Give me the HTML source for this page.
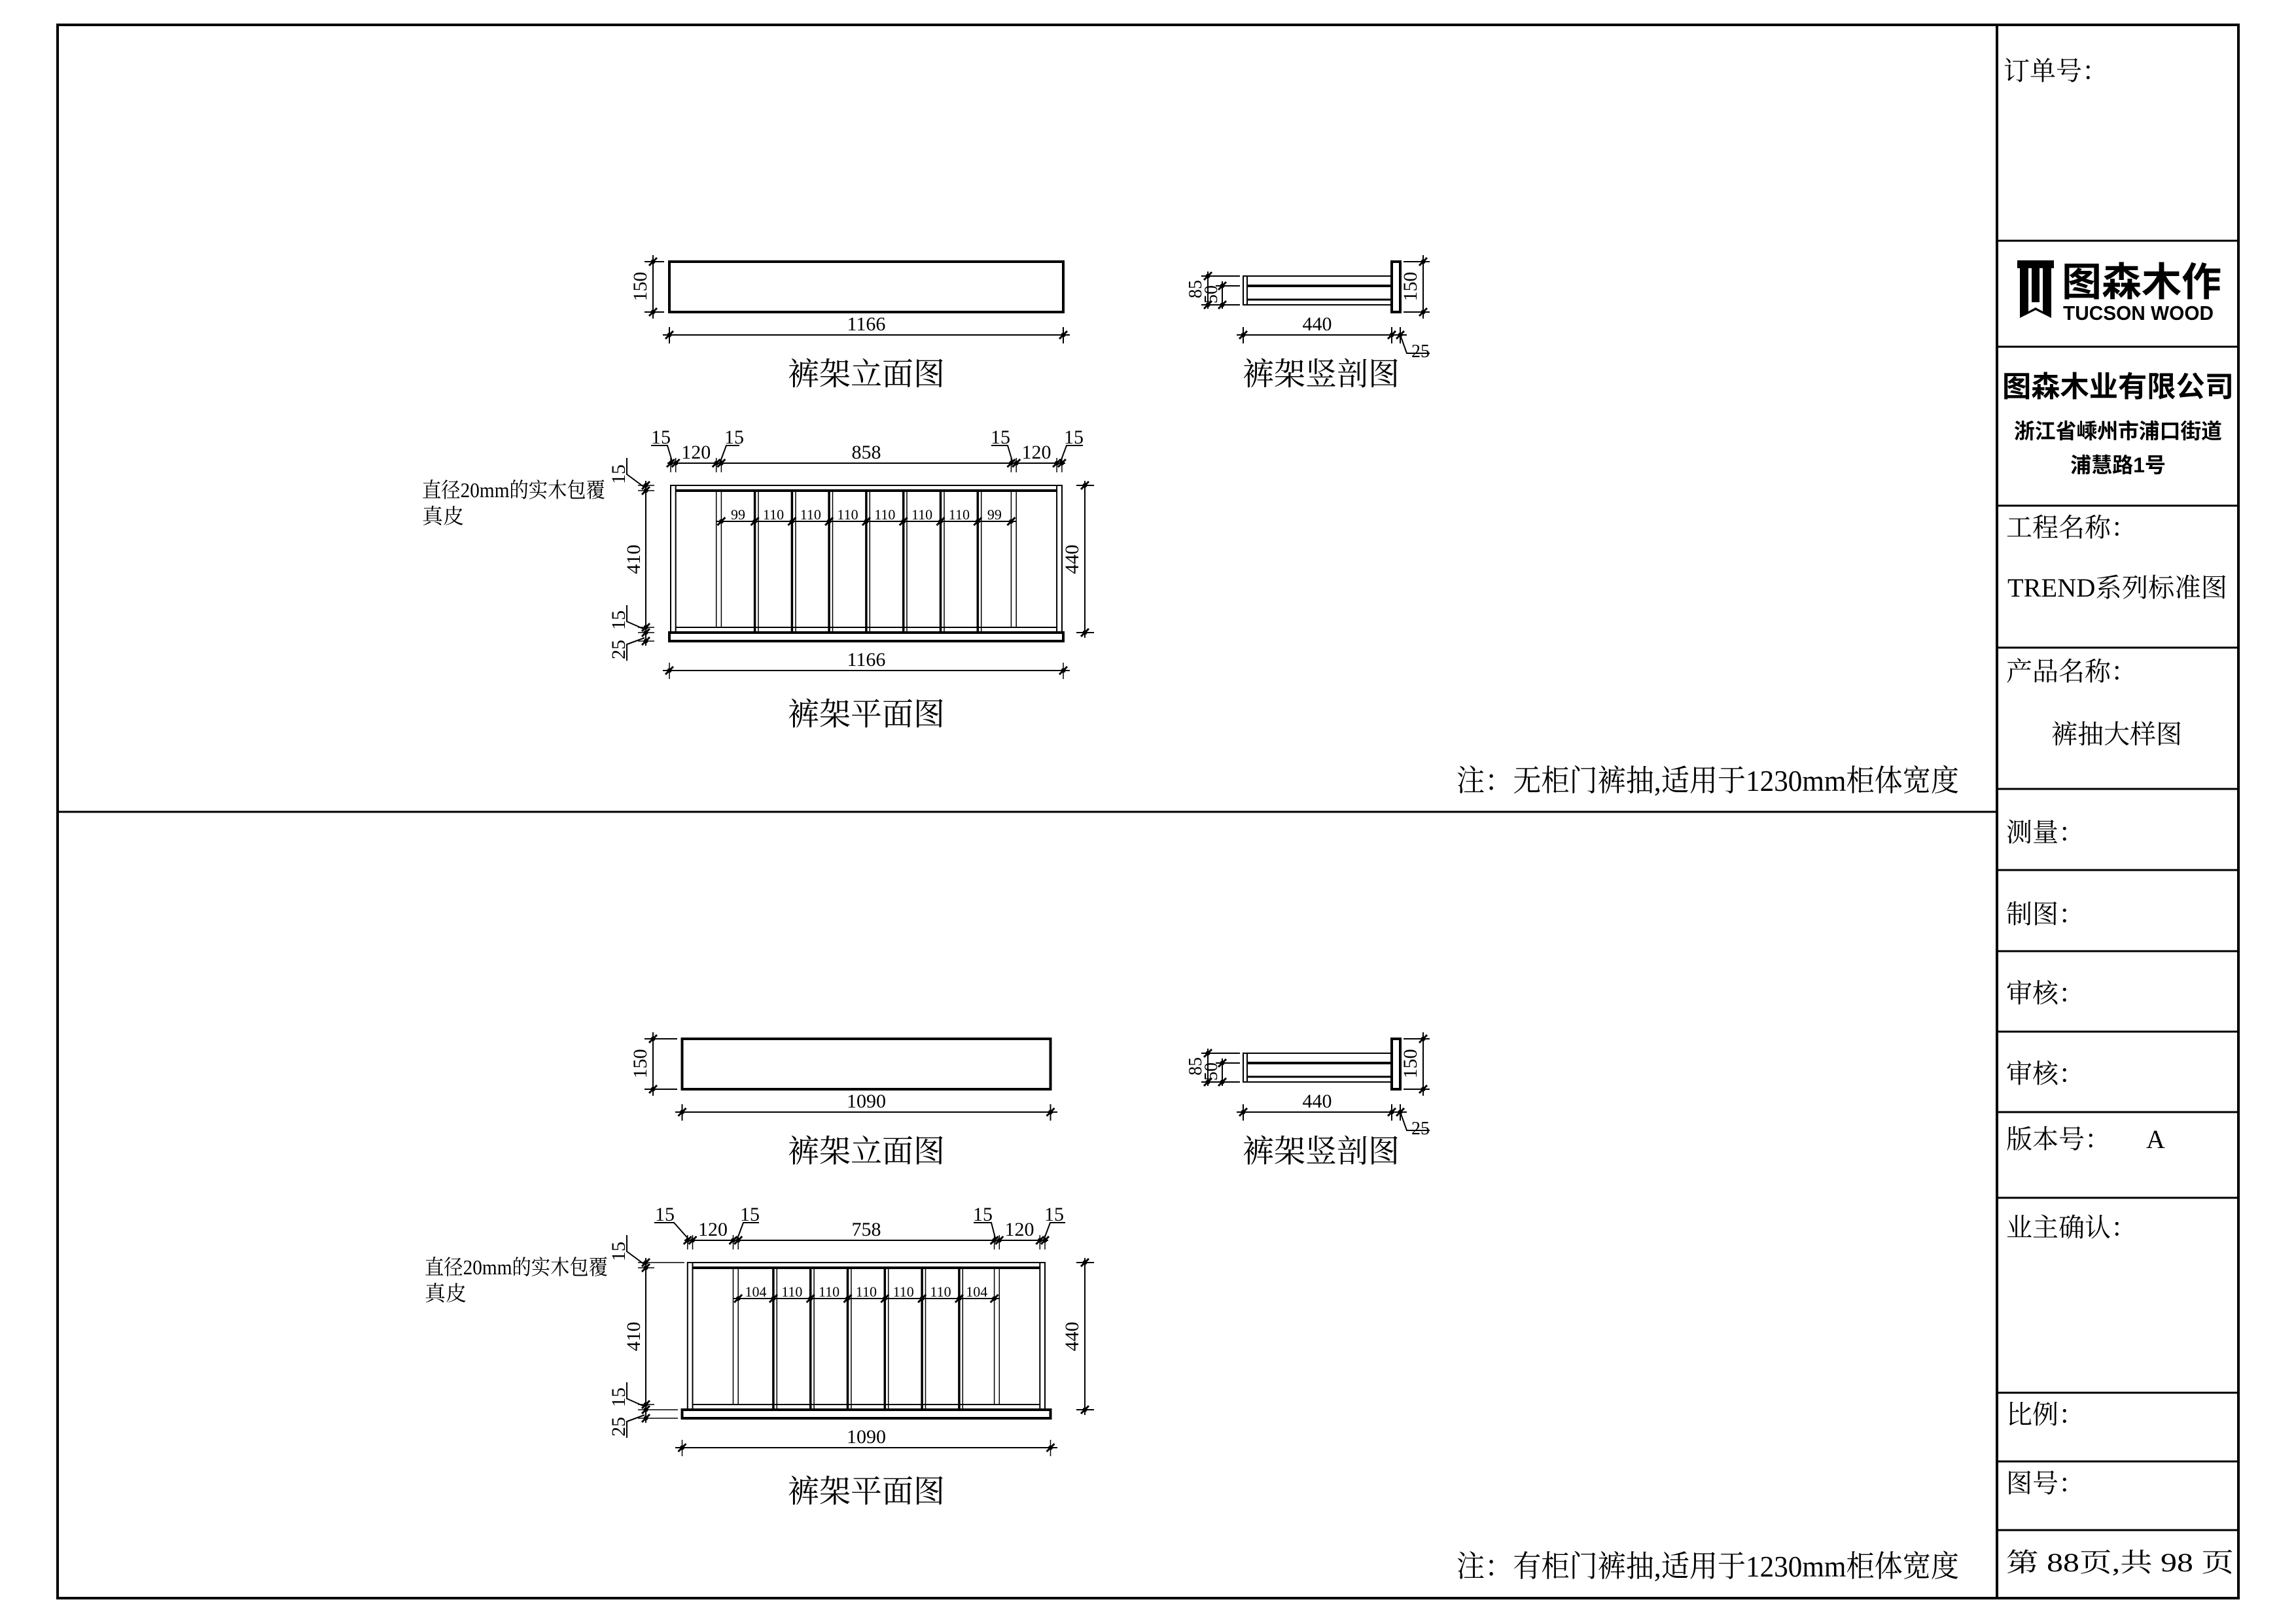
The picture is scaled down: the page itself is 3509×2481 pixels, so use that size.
<!DOCTYPE html>
<html><head><meta charset="utf-8"><style>
html,body{margin:0;padding:0;background:#fff;}
svg{display:block;}
.s{font-family:"Liberation Serif","Noto Serif CJK SC",serif;fill:#000;}
.b{font-family:"Liberation Sans","Noto Sans CJK SC",sans-serif;font-weight:bold;fill:#000;}
</style></head><body>
<svg width="3509" height="2481" viewBox="0 0 3509 2481" xmlns="http://www.w3.org/2000/svg">
<defs>
<g id="tk"><line x1="-6" y1="6" x2="6" y2="-6" stroke="#000" stroke-width="3"/><circle r="3.5" fill="#000"/></g>
</defs>
<rect x="88" y="38" width="3333" height="2405" fill="none" stroke="#000" stroke-width="4"/>
<line x1="3052" y1="38" x2="3052" y2="2443" stroke="#000" stroke-width="4"/>
<line x1="88" y1="1241" x2="3052" y2="1241" stroke="#000" stroke-width="3"/>
<g stroke="#000" stroke-width="3">
<line x1="3052" y1="368" x2="3421" y2="368"/>
<line x1="3052" y1="530" x2="3421" y2="530"/>
<line x1="3052" y1="773" x2="3421" y2="773"/>
<line x1="3052" y1="990" x2="3421" y2="990"/>
<line x1="3052" y1="1206" x2="3421" y2="1206"/>
<line x1="3052" y1="1330" x2="3421" y2="1330"/>
<line x1="3052" y1="1454" x2="3421" y2="1454"/>
<line x1="3052" y1="1577" x2="3421" y2="1577"/>
<line x1="3052" y1="1700" x2="3421" y2="1700"/>
<line x1="3052" y1="1831" x2="3421" y2="1831"/>
<line x1="3052" y1="2129" x2="3421" y2="2129"/>
<line x1="3052" y1="2234" x2="3421" y2="2234"/>
<line x1="3052" y1="2339" x2="3421" y2="2339"/>
</g>
<g class="s" font-size="40">
<text x="3062" y="122">订单号：</text>
<text x="3066" y="820">工程名称：</text>
<text x="3068" y="912" textLength="336" lengthAdjust="spacingAndGlyphs">TREND系列标准图</text>
<text x="3066" y="1040">产品名称：</text>
<text x="3235" y="1136" text-anchor="middle">裤抽大样图</text>
<text x="3066" y="1286">测量：</text>
<text x="3066" y="1411">制图：</text>
<text x="3066" y="1532">审核：</text>
<text x="3066" y="1655">审核：</text>
<text x="3066" y="1755">版本号：</text>
<text x="3280" y="1755">A</text>
<text x="3066" y="1890">业主确认：</text>
<text x="3066" y="2176">比例：</text>
<text x="3066" y="2281">图号：</text>
<text x="3066" y="2402" textLength="348" lengthAdjust="spacingAndGlyphs">第 88页,共 98 页</text>
</g>
<g fill="#000">
<rect x="3083" y="398" width="56" height="12"/>
<polygon points="3087,410 3100,410 3100,476 3111,470 3122,476 3122,410 3135,410 3135,486 3111,474 3087,486"/>
<rect x="3105" y="410" width="12" height="52"/>
</g>
<text class="b" x="3151" y="452" font-size="60" textLength="244" lengthAdjust="spacingAndGlyphs">图森木作</text>
<text class="b" x="3153" y="489" font-size="31" textLength="230" lengthAdjust="spacingAndGlyphs">TUCSON WOOD</text>
<text class="b" x="3237" y="606" font-size="44" text-anchor="middle" textLength="354" lengthAdjust="spacingAndGlyphs">图森木业有限公司</text>
<text class="b" x="3237" y="670" font-size="32" text-anchor="middle" textLength="318" lengthAdjust="spacingAndGlyphs">浙江省嵊州市浦口街道</text>
<text class="b" x="3237" y="722" font-size="32" text-anchor="middle">浦慧路1号</text>

<text class="s" x="2226" y="1209" font-size="46" textLength="768" lengthAdjust="spacingAndGlyphs">注：无柜门裤抽,适用于1230mm柜体宽度</text>
<text class="s" x="2226" y="2410" font-size="46" textLength="768" lengthAdjust="spacingAndGlyphs">注：有柜门裤抽,适用于1230mm柜体宽度</text>

<g id="top">
<rect x="1023" y="400" width="602" height="77" fill="none" stroke="#000" stroke-width="4"/>
<g stroke="#000" stroke-width="2">
<line x1="998" y1="390" x2="998" y2="487"/><line x1="985" y1="400" x2="1015" y2="400"/><line x1="985" y1="477" x2="1015" y2="477"/>
<line x1="1013" y1="512" x2="1635" y2="512"/><line x1="1023" y1="500" x2="1023" y2="525"/><line x1="1625" y1="500" x2="1625" y2="525"/>
</g>
<use href="#tk" x="998" y="400"/><use href="#tk" x="998" y="477"/><use href="#tk" x="1023" y="512"/><use href="#tk" x="1625" y="512"/>
<text class="s" font-size="30" transform="translate(988,438) rotate(-90)" text-anchor="middle">150</text>
<text class="s" font-size="30" x="1324" y="505" text-anchor="middle">1166</text>
<text class="s" font-size="48" x="1324" y="588" text-anchor="middle">裤架立面图</text>

<g fill="none" stroke="#000" stroke-width="2">
<rect x="1900" y="422" width="227" height="44"/>
<line x1="1906" y1="422" x2="1906" y2="466"/>
<line x1="1906" y1="437" x2="2127" y2="437" stroke-width="4"/>
<line x1="1906" y1="458" x2="2127" y2="458" stroke-width="3"/>
<rect x="2127" y="400" width="13" height="77" stroke-width="4"/>
<line x1="1846" y1="415" x2="1846" y2="472"/><line x1="1836" y1="422" x2="1895" y2="422"/>
<line x1="1868" y1="430" x2="1868" y2="472"/><line x1="1858" y1="437" x2="1895" y2="437"/><line x1="1836" y1="466" x2="1895" y2="466"/>
<line x1="2175" y1="390" x2="2175" y2="487"/><line x1="2145" y1="400" x2="2185" y2="400"/><line x1="2145" y1="477" x2="2185" y2="477"/>
<line x1="1890" y1="512" x2="2150" y2="512"/><line x1="1900" y1="500" x2="1900" y2="525"/><line x1="2127" y1="500" x2="2127" y2="525"/><line x1="2140" y1="500" x2="2140" y2="525"/>
<polyline points="2140,512 2150,540 2185,540"/>
</g>
<use href="#tk" x="1846" y="422"/><use href="#tk" x="1846" y="466"/><use href="#tk" x="1868" y="437"/><use href="#tk" x="1868" y="466"/>
<use href="#tk" x="2175" y="400"/><use href="#tk" x="2175" y="477"/><use href="#tk" x="1900" y="512"/><use href="#tk" x="2127" y="512"/><use href="#tk" x="2140" y="512"/>
<text class="s" font-size="28" transform="translate(1836,442) rotate(-90)" text-anchor="middle">85</text>
<text class="s" font-size="28" transform="translate(1860,450) rotate(-90)" text-anchor="middle">50</text>
<text class="s" font-size="30" transform="translate(2165,438) rotate(-90)" text-anchor="middle">150</text>
<text class="s" font-size="30" x="2013" y="505" text-anchor="middle">440</text>
<text class="s" font-size="28" x="2157" y="546">25</text>
<text class="s" font-size="48" x="2019" y="588" text-anchor="middle">裤架竖剖图</text>

<g fill="none" stroke="#000">
<rect x="1023" y="967" width="602" height="13" stroke-width="4"/>
<rect x="1025" y="742" width="598" height="225" stroke-width="2"/>
<line x1="1032.7" y1="742" x2="1032.7" y2="967" stroke-width="2"/>
<line x1="1615.1" y1="742" x2="1615.1" y2="967" stroke-width="2"/>
<line x1="1032.7" y1="750" x2="1615.1" y2="750" stroke-width="4"/>
<line x1="1032.7" y1="959" x2="1615.1" y2="959" stroke-width="2"/>
<g stroke-width="1.5">
<line x1="1094.7" y1="750" x2="1094.7" y2="959"/><line x1="1102.4" y1="750" x2="1102.4" y2="959"/>
<line x1="1545.4" y1="750" x2="1545.4" y2="959"/><line x1="1553.2" y1="750" x2="1553.2" y2="959"/>
</g>
<g stroke-width="3.5">
<line x1="1153.6" y1="750" x2="1153.6" y2="967"/><line x1="1210.4" y1="750" x2="1210.4" y2="967"/><line x1="1267.1" y1="750" x2="1267.1" y2="967"/><line x1="1323.9" y1="750" x2="1323.9" y2="967"/><line x1="1380.7" y1="750" x2="1380.7" y2="967"/><line x1="1437.5" y1="750" x2="1437.5" y2="967"/><line x1="1494.3" y1="750" x2="1494.3" y2="967"/>
</g>
<g stroke-width="1.5">
<line x1="1159" y1="750" x2="1159" y2="967"/><line x1="1216" y1="750" x2="1216" y2="967"/><line x1="1272.5" y1="750" x2="1272.5" y2="967"/><line x1="1329.3" y1="750" x2="1329.3" y2="967"/><line x1="1386" y1="750" x2="1386" y2="967"/><line x1="1443" y1="750" x2="1443" y2="967"/><line x1="1499.7" y1="750" x2="1499.7" y2="967"/>
</g>
<line x1="1094" y1="797" x2="1553" y2="797" stroke-width="2"/>
<line x1="1020" y1="708" x2="1628" y2="708" stroke-width="2"/>
<g stroke-width="1.5">
<line x1="1025" y1="700" x2="1025" y2="722"/><line x1="1032.7" y1="700" x2="1032.7" y2="722"/><line x1="1094.7" y1="700" x2="1094.7" y2="722"/><line x1="1102.4" y1="700" x2="1102.4" y2="722"/><line x1="1545.4" y1="700" x2="1545.4" y2="722"/><line x1="1553.2" y1="700" x2="1553.2" y2="722"/><line x1="1615.1" y1="700" x2="1615.1" y2="722"/><line x1="1622.9" y1="700" x2="1622.9" y2="722"/>
</g>
<g stroke-width="2">
<polyline points="995,681 1020,681 1028,708"/><polyline points="1130,681 1110,681 1100,708"/>
<polyline points="1515,681 1540,681 1548,708"/><polyline points="1655,681 1630,681 1620,708"/>
</g>
<line x1="987" y1="735" x2="987" y2="987" stroke-width="2"/>
<g stroke-width="1.5"><line x1="975" y1="742" x2="1000" y2="742"/><line x1="975" y1="750" x2="1000" y2="750"/><line x1="975" y1="959" x2="1000" y2="959"/><line x1="975" y1="967" x2="1000" y2="967"/><line x1="975" y1="980" x2="1000" y2="980"/></g>
<g stroke-width="2"><polyline points="958,700 958,725 985,745"/><polyline points="958,925 958,950 985,962"/><polyline points="958,1010 958,985 985,975"/></g>
<line x1="1658" y1="735" x2="1658" y2="975" stroke-width="2"/>
<line x1="1645" y1="742" x2="1672" y2="742" stroke-width="2"/><line x1="1645" y1="967" x2="1672" y2="967" stroke-width="2"/>
<line x1="1013" y1="1025" x2="1635" y2="1025" stroke-width="2"/>
<line x1="1023" y1="1013" x2="1023" y2="1038" stroke-width="1.5"/><line x1="1625" y1="1013" x2="1625" y2="1038" stroke-width="1.5"/>
</g>
<g>
<use href="#tk" x="1032.7" y="708"/><use href="#tk" x="1094.7" y="708"/><use href="#tk" x="1102.4" y="708"/><use href="#tk" x="1545.4" y="708"/><use href="#tk" x="1553.2" y="708"/><use href="#tk" x="1615.1" y="708"/><use href="#tk" x="1025" y="708"/><use href="#tk" x="1622.9" y="708"/>
<use href="#tk" x="1102.4" y="797"/><use href="#tk" x="1153.6" y="797"/><use href="#tk" x="1210.4" y="797"/><use href="#tk" x="1267.1" y="797"/><use href="#tk" x="1323.9" y="797"/><use href="#tk" x="1380.7" y="797"/><use href="#tk" x="1437.5" y="797"/><use href="#tk" x="1494.3" y="797"/><use href="#tk" x="1545.4" y="797"/>
<use href="#tk" x="987" y="742"/><use href="#tk" x="987" y="750"/><use href="#tk" x="987" y="959"/><use href="#tk" x="987" y="967"/><use href="#tk" x="987" y="980"/>
<use href="#tk" x="1658" y="742"/><use href="#tk" x="1658" y="967"/>
<use href="#tk" x="1023" y="1025"/><use href="#tk" x="1625" y="1025"/>
</g>
<g class="s" font-size="22" text-anchor="middle">
<text x="1128" y="794">99</text><text x="1182" y="794">110</text><text x="1238.8" y="794">110</text><text x="1295.5" y="794">110</text><text x="1352.3" y="794">110</text><text x="1409.1" y="794">110</text><text x="1465.9" y="794">110</text><text x="1519.9" y="794">99</text>
</g>
<g class="s" font-size="30" text-anchor="middle">
<text x="1063.7" y="701">120</text><text x="1324" y="701">858</text><text x="1584" y="701">120</text>
<text x="1010" y="678">15</text><text x="1122" y="678">15</text><text x="1529" y="678">15</text><text x="1641" y="678">15</text>
<text x="1324" y="1018">1166</text>
<text transform="translate(978,855) rotate(-90)">410</text>
<text transform="translate(1648,855) rotate(-90)">440</text>
<text transform="translate(955,725) rotate(-90)">15</text>
<text transform="translate(955,948) rotate(-90)">15</text>
<text transform="translate(955,993) rotate(-90)">25</text>
</g>
<text class="s" font-size="32" x="645" y="760" textLength="280" lengthAdjust="spacingAndGlyphs">直径20mm的实木包覆</text>
<text class="s" font-size="32" x="645" y="800">真皮</text>
<text class="s" font-size="48" x="1324" y="1108" text-anchor="middle">裤架平面图</text>
</g>

<g transform="translate(0,1188)">
<rect x="1042.5" y="400" width="563" height="77" fill="none" stroke="#000" stroke-width="4"/>
<g stroke="#000" stroke-width="2">
<line x1="998" y1="390" x2="998" y2="487"/><line x1="985" y1="400" x2="1035" y2="400"/><line x1="985" y1="477" x2="1035" y2="477"/>
<line x1="1032" y1="512" x2="1616" y2="512"/><line x1="1042.5" y1="500" x2="1042.5" y2="525"/><line x1="1605.5" y1="500" x2="1605.5" y2="525"/>
</g>
<use href="#tk" x="998" y="400"/><use href="#tk" x="998" y="477"/><use href="#tk" x="1042.5" y="512"/><use href="#tk" x="1605.5" y="512"/>
<text class="s" font-size="30" transform="translate(988,438) rotate(-90)" text-anchor="middle">150</text>
<text class="s" font-size="30" x="1324" y="505" text-anchor="middle">1090</text>
<text class="s" font-size="48" x="1324" y="588" text-anchor="middle">裤架立面图</text>

<g fill="none" stroke="#000" stroke-width="2">
<rect x="1900" y="422" width="227" height="44"/>
<line x1="1906" y1="422" x2="1906" y2="466"/>
<line x1="1906" y1="437" x2="2127" y2="437" stroke-width="4"/>
<line x1="1906" y1="458" x2="2127" y2="458" stroke-width="3"/>
<rect x="2127" y="400" width="13" height="77" stroke-width="4"/>
<line x1="1846" y1="415" x2="1846" y2="472"/><line x1="1836" y1="422" x2="1895" y2="422"/>
<line x1="1868" y1="430" x2="1868" y2="472"/><line x1="1858" y1="437" x2="1895" y2="437"/><line x1="1836" y1="466" x2="1895" y2="466"/>
<line x1="2175" y1="390" x2="2175" y2="487"/><line x1="2145" y1="400" x2="2185" y2="400"/><line x1="2145" y1="477" x2="2185" y2="477"/>
<line x1="1890" y1="512" x2="2150" y2="512"/><line x1="1900" y1="500" x2="1900" y2="525"/><line x1="2127" y1="500" x2="2127" y2="525"/><line x1="2140" y1="500" x2="2140" y2="525"/>
<polyline points="2140,512 2150,540 2185,540"/>
</g>
<use href="#tk" x="1846" y="422"/><use href="#tk" x="1846" y="466"/><use href="#tk" x="1868" y="437"/><use href="#tk" x="1868" y="466"/>
<use href="#tk" x="2175" y="400"/><use href="#tk" x="2175" y="477"/><use href="#tk" x="1900" y="512"/><use href="#tk" x="2127" y="512"/><use href="#tk" x="2140" y="512"/>
<text class="s" font-size="28" transform="translate(1836,442) rotate(-90)" text-anchor="middle">85</text>
<text class="s" font-size="28" transform="translate(1860,450) rotate(-90)" text-anchor="middle">50</text>
<text class="s" font-size="30" transform="translate(2165,438) rotate(-90)" text-anchor="middle">150</text>
<text class="s" font-size="30" x="2013" y="505" text-anchor="middle">440</text>
<text class="s" font-size="28" x="2157" y="546">25</text>
<text class="s" font-size="48" x="2019" y="588" text-anchor="middle">裤架竖剖图</text>

<g fill="none" stroke="#000">
<rect x="1042.5" y="967" width="563" height="13" stroke-width="4"/>
<rect x="1050.8" y="742" width="546.2" height="225" stroke-width="2"/>
<line x1="1058.5" y1="742" x2="1058.5" y2="967" stroke-width="2"/>
<line x1="1589.3" y1="742" x2="1589.3" y2="967" stroke-width="2"/>
<line x1="1058.5" y1="750" x2="1589.3" y2="750" stroke-width="4"/>
<line x1="1058.5" y1="959" x2="1589.3" y2="959" stroke-width="2"/>
<g stroke-width="1.5">
<line x1="1120.5" y1="750" x2="1120.5" y2="959"/><line x1="1128.2" y1="750" x2="1128.2" y2="959"/>
<line x1="1519.6" y1="750" x2="1519.6" y2="959"/><line x1="1527.3" y1="750" x2="1527.3" y2="959"/>
</g>
<g stroke-width="3.5">
<line x1="1181.9" y1="750" x2="1181.9" y2="967"/><line x1="1238.7" y1="750" x2="1238.7" y2="967"/><line x1="1295.5" y1="750" x2="1295.5" y2="967"/><line x1="1352.3" y1="750" x2="1352.3" y2="967"/><line x1="1409.1" y1="750" x2="1409.1" y2="967"/><line x1="1465.9" y1="750" x2="1465.9" y2="967"/>
</g>
<g stroke-width="1.5">
<line x1="1187.3" y1="750" x2="1187.3" y2="967"/><line x1="1244.1" y1="750" x2="1244.1" y2="967"/><line x1="1300.9" y1="750" x2="1300.9" y2="967"/><line x1="1357.7" y1="750" x2="1357.7" y2="967"/><line x1="1414.5" y1="750" x2="1414.5" y2="967"/><line x1="1471.3" y1="750" x2="1471.3" y2="967"/>
</g>
<line x1="1120" y1="797" x2="1528" y2="797" stroke-width="2"/>
<line x1="1046" y1="708" x2="1602" y2="708" stroke-width="2"/>
<g stroke-width="1.5">
<line x1="1050.8" y1="700" x2="1050.8" y2="722"/><line x1="1058.5" y1="700" x2="1058.5" y2="722"/><line x1="1120.5" y1="700" x2="1120.5" y2="722"/><line x1="1128.2" y1="700" x2="1128.2" y2="722"/><line x1="1519.6" y1="700" x2="1519.6" y2="722"/><line x1="1527.3" y1="700" x2="1527.3" y2="722"/><line x1="1589.3" y1="700" x2="1589.3" y2="722"/><line x1="1597" y1="700" x2="1597" y2="722"/>
</g>
<g stroke-width="2">
<polyline points="1000,681 1030,681 1054,708"/><polyline points="1160,681 1136,681 1126,708"/>
<polyline points="1488,681 1515,681 1522,708"/><polyline points="1628,681 1605,681 1595,708"/>
</g>
<line x1="987" y1="735" x2="987" y2="987" stroke-width="2"/>
<g stroke-width="1.5"><line x1="975" y1="742" x2="1046" y2="742"/><line x1="975" y1="750" x2="1000" y2="750"/><line x1="975" y1="959" x2="1000" y2="959"/><line x1="975" y1="967" x2="1036" y2="967"/><line x1="975" y1="980" x2="1036" y2="980"/></g>
<g stroke-width="2"><polyline points="958,700 958,725 985,745"/><polyline points="958,925 958,950 985,962"/><polyline points="958,1010 958,985 985,975"/></g>
<line x1="1658" y1="735" x2="1658" y2="975" stroke-width="2"/>
<line x1="1645" y1="742" x2="1672" y2="742" stroke-width="2"/><line x1="1645" y1="967" x2="1672" y2="967" stroke-width="2"/>
<line x1="1032" y1="1025" x2="1616" y2="1025" stroke-width="2"/>
<line x1="1042.5" y1="1013" x2="1042.5" y2="1038" stroke-width="1.5"/><line x1="1605.5" y1="1013" x2="1605.5" y2="1038" stroke-width="1.5"/>
</g>
<g>
<use href="#tk" x="1050.8" y="708"/><use href="#tk" x="1058.5" y="708"/><use href="#tk" x="1120.5" y="708"/><use href="#tk" x="1128.2" y="708"/><use href="#tk" x="1519.6" y="708"/><use href="#tk" x="1527.3" y="708"/><use href="#tk" x="1589.3" y="708"/><use href="#tk" x="1597" y="708"/>
<use href="#tk" x="1128.2" y="797"/><use href="#tk" x="1181.9" y="797"/><use href="#tk" x="1238.7" y="797"/><use href="#tk" x="1295.5" y="797"/><use href="#tk" x="1352.3" y="797"/><use href="#tk" x="1409.1" y="797"/><use href="#tk" x="1465.9" y="797"/><use href="#tk" x="1519.6" y="797"/>
<use href="#tk" x="987" y="742"/><use href="#tk" x="987" y="750"/><use href="#tk" x="987" y="959"/><use href="#tk" x="987" y="967"/><use href="#tk" x="987" y="980"/>
<use href="#tk" x="1658" y="742"/><use href="#tk" x="1658" y="967"/>
<use href="#tk" x="1042.5" y="1025"/><use href="#tk" x="1605.5" y="1025"/>
</g>
<g class="s" font-size="22" text-anchor="middle">
<text x="1155" y="794">104</text><text x="1210.3" y="794">110</text><text x="1267.1" y="794">110</text><text x="1323.9" y="794">110</text><text x="1380.7" y="794">110</text><text x="1437.5" y="794">110</text><text x="1492.8" y="794">104</text>
</g>
<g class="s" font-size="30" text-anchor="middle">
<text x="1089.5" y="701">120</text><text x="1324" y="701">758</text><text x="1558" y="701">120</text>
<text x="1016" y="678">15</text><text x="1146" y="678">15</text><text x="1502" y="678">15</text><text x="1611" y="678">15</text>
<text x="1324" y="1018">1090</text>
<text transform="translate(978,855) rotate(-90)">410</text>
<text transform="translate(1648,855) rotate(-90)">440</text>
<text transform="translate(955,725) rotate(-90)">15</text>
<text transform="translate(955,948) rotate(-90)">15</text>
<text transform="translate(955,993) rotate(-90)">25</text>
</g>
<text class="s" font-size="32" x="649" y="760" textLength="280" lengthAdjust="spacingAndGlyphs">直径20mm的实木包覆</text>
<text class="s" font-size="32" x="649" y="800">真皮</text>
<text class="s" font-size="48" x="1324" y="1108" text-anchor="middle">裤架平面图</text>
</g>
</svg>
</body></html>
